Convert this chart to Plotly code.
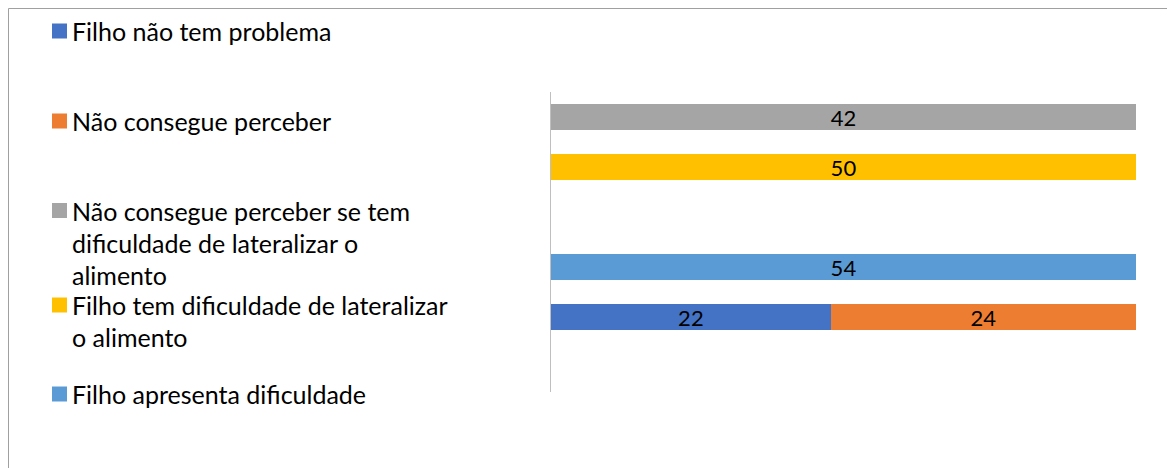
import plotly.graph_objects as go

# ---- data ----
slots = ["s1", "s2", "s3", "s4", "s5", "s6"]  # top to bottom (s3, s6 empty)
series_names = [
    "Filho não tem problema",
    "Não consegue perceber",
    "Não consegue perceber se tem dificuldade de lateralizar o alimento",
    "Filho tem dificuldade de lateralizar o alimento",
    "Filho apresenta dificuldade",
]
series_colors = ["#4472C4", "#ED7D31", "#A5A5A5", "#FFC000", "#5B9BD5"]
blue_vals = [None, None, None, None, 22, None]
orange_vals = [None, None, None, None, 24, None]
gray_vals = [42, None, None, None, None, None]
yellow_vals = [None, 50, None, None, None, None]
lightblue_vals = [None, None, None, 54, None, None]
all_vals = [blue_vals, orange_vals, gray_vals, yellow_vals, lightblue_vals]

legend_lines = [
    ["Filho não tem problema"],
    ["Não consegue perceber"],
    ["Não consegue perceber se tem", "dificuldade de lateralizar o", "alimento"],
    ["Filho tem dificuldade de lateralizar", "o alimento"],
    ["Filho apresenta dificuldade"],
]

# ---- layout geometry (figure pixels; page body adds an 8px offset) ----
OFF = 8
WIDTH, HEIGHT = 1175, 468
L, R, T, B = 551 - OFF, 1136 - OFF, 92 - OFF, 392 - OFF
PW, PH = R - L, B - T
FONT = "Lato"
FS = 25
LABEL_FS = 22


def px_x(x):
    return (x - OFF - L) / PW


def px_y(y):
    return (B - (y - OFF)) / PH


fig = go.Figure()
for name, color, vals in zip(series_names, series_colors, all_vals):
    fig.add_trace(go.Bar(
        y=slots, x=vals, orientation="h", name=name,
        marker=dict(color=color, line=dict(width=0)),
        text=[("" if v is None else str(v)) for v in vals],
        texttemplate="%{text}",
        textposition="inside", insidetextanchor="middle", textangle=0,
        textfont=dict(color="black", size=LABEL_FS, family=FONT),
        constraintext="none",
        showlegend=False, hoverinfo="skip",
    ))

shapes = []
annotations = []
# chart border
shapes.append(dict(type="rect", xref="paper", yref="paper",
                   x0=px_x(8.5), x1=px_x(1200), y0=px_y(8.5), y1=px_y(490),
                   line=dict(color="#A0A0A0", width=1), fillcolor="rgba(0,0,0,0)", layer="below"))

entry_centers = [31, 121, 210.5, 305, 394]
line_gap = 32
for lines, color, yc in zip(legend_lines, series_colors, entry_centers):
    shapes.append(dict(type="rect", xref="paper", yref="paper",
                       x0=px_x(52), x1=px_x(67), y0=px_y(yc - 7.5), y1=px_y(yc + 7.5),
                       line=dict(width=0), fillcolor=color))
    for i, ln in enumerate(lines):
        annotations.append(dict(xref="paper", yref="paper", x=px_x(71), y=px_y(yc + i * line_gap),
                                xanchor="left", yanchor="middle", text=ln, showarrow=False,
                                borderpad=0,
                                font=dict(family=FONT, size=FS, color="#000000")))

fig.update_layout(
    width=WIDTH, height=HEIGHT,
    margin=dict(l=L, r=WIDTH - R, t=T, b=HEIGHT - B, pad=0),
    barmode="stack", barnorm="percent", bargap=0.48,
    plot_bgcolor="white", paper_bgcolor="white",
    shapes=shapes, annotations=annotations,
    font=dict(family=FONT, size=FS, color="black"),
)
fig.update_xaxes(range=[0, 100], visible=False, showgrid=False, zeroline=False)
fig.update_yaxes(type="category", categoryorder="array", categoryarray=slots,
                 range=[5.5, -0.5], showticklabels=False, ticks="", showgrid=False,
                 zeroline=False, showline=True, linecolor="#BFBFBF", linewidth=1)

fig.write_html("out.html")
